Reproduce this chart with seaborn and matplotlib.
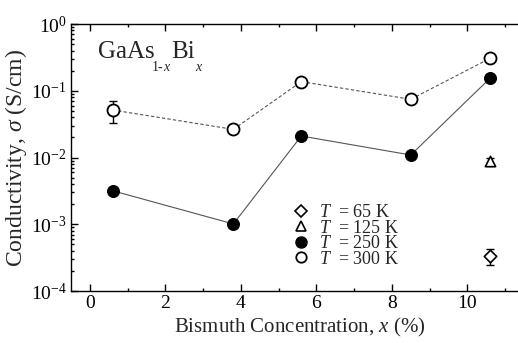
import numpy as np
import pandas as pd
import matplotlib
matplotlib.use("Agg")
import matplotlib.pyplot as plt
from matplotlib.lines import Line2D
from matplotlib.transforms import offset_copy
import seaborn as sns

sns.set_style("ticks")
plt.rcParams['font.family'] = ['Liberation Serif', 'DejaVu Serif']
plt.rcParams['mathtext.fontset'] = 'custom'
plt.rcParams['mathtext.rm'] = 'Liberation Serif'
plt.rcParams['mathtext.it'] = 'Liberation Serif:italic'

# bismuth concentration (%)
x_bi = [0.6, 3.8, 5.6, 8.5, 10.6]
sigma_300 = [0.0515, 0.0264, 0.137, 0.0745, 0.306]
sigma_250 = [0.00318, 0.00101, 0.021, 0.0109, 0.154]
x_low = [10.6]
sigma_125 = [0.0090]
sigma_65 = [0.00033]

# error bars (low, high)
err_300_x = 0.6
err_300 = (0.0332, 0.0695)
err_125 = (0.0074, 0.0098)
err_65 = (0.000243, 0.00042)

df = pd.DataFrame({'x': x_bi * 2,
                   'sigma': sigma_300 + sigma_250,
                   'T': ['300 K'] * 5 + ['250 K'] * 5})

fig = plt.figure(figsize=(5.18, 3.43), dpi=100)
ax = fig.add_axes([0.1371, 0.1516, 0.8818, 0.7784])

sns.lineplot(data=df[df['T'] == '300 K'], x='x', y='sigma', ax=ax,
             color='#555555', lw=0.8, linestyle=(0, (3, 2)), zorder=1)
sns.lineplot(data=df[df['T'] == '250 K'], x='x', y='sigma', ax=ax,
             color='#555555', lw=0.8, zorder=1)

def errbar(x, y, lohi):
    ax.errorbar([x], [y], yerr=[[y - lohi[0]], [lohi[1] - y]], fmt='none',
                ecolor='black', elinewidth=1.0, capsize=3, capthick=1.0, zorder=2)

errbar(err_300_x, sigma_300[0], err_300)
errbar(x_low[0], sigma_125[0], err_125)
errbar(x_low[0], sigma_65[0], err_65)

sns.scatterplot(x=x_bi, y=sigma_250, ax=ax, marker='o', s=75,
                color='black', edgecolor='black', zorder=3)
sns.scatterplot(x=x_bi, y=sigma_300, ax=ax, marker='o', s=75,
                color='white', edgecolor='black', linewidth=1.3, zorder=3)
sns.scatterplot(x=x_low, y=sigma_125, ax=ax, marker='^', s=55,
                color='white', edgecolor='black', linewidth=1.2, zorder=3)
sns.scatterplot(x=x_low, y=sigma_65, ax=ax, marker='D', s=40,
                color='white', edgecolor='black', linewidth=1.2, zorder=3)

ax.set_yscale('log')
ax.set_ylim(1e-4, 1)
ax.set_xlim(-0.5, 11.6)
ax.set_xticks([0, 2, 4, 6, 8, 10])
ax.set_xticks([1, 3, 5, 7, 9, 11], minor=True)
ax.tick_params(which='both', direction='in', top=True, right=True,
               labelsize=14, width=1.0, colors='black')
ax.tick_params(which='major', length=5, pad=3)
ax.tick_params(which='minor', length=2.5)
for s in ax.spines.values():
    s.set_linewidth(1.0)
    s.set_color('black')
ax.spines['right'].set_visible(False)

ax.set_xlabel('Bismuth Concentration, $x$ (%)', fontsize=15, labelpad=3)
ax.set_ylabel(r'Conductivity, $\sigma$ (S/cm)', fontsize=17, labelpad=1)

# GaAs(1-x)Bi(x) label, subscripts dropped well below the baseline
renderer = fig.canvas.get_renderer()
parts = [('GaAs', 18, 0, 'normal', 0), ('1-', 10, -13, 'normal', -3),
         ('x', 10, -13, 'italic', 0), ('Bi', 18, 0, 'normal', 2), ('x', 10, -13, 'italic', 0)]
dx = 0.0
for txt, fs, dy, style, shift in parts:
    dx += shift
    tr = offset_copy(ax.transData, fig=fig, x=dx, y=dy, units='dots')
    t = ax.text(0.22, 0.31, txt, fontsize=fs, style=style, transform=tr,
                va='baseline', ha='left')
    dx += t.get_window_extent(renderer).width

handles = [
    Line2D([], [], ls='none', marker='D', ms=6, mfc='white', mec='black', mew=1.2),
    Line2D([], [], ls='none', marker='^', ms=7, mfc='white', mec='black', mew=1.2),
    Line2D([], [], ls='none', marker='o', ms=8, mfc='black', mec='black'),
    Line2D([], [], ls='none', marker='o', ms=7.5, mfc='white', mec='black', mew=1.3),
]
labels = ['$T$  = 65 K', '$T$  = 125 K', '$T$  = 250 K', '$T$  = 300 K']
ax.legend(handles, labels, loc='lower left', bbox_to_anchor=(0.46, 0.04),
          frameon=False, fontsize=13, handlelength=0.8, handletextpad=0.6,
          labelspacing=-0.08, borderpad=0.2)

fig.savefig('out.png', dpi=100)
